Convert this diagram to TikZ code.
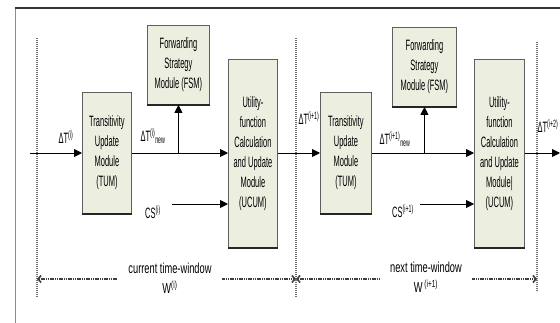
\documentclass[tikz,border=0pt]{standalone}
\usepackage{fontspec}
\setmainfont{Liberation Sans}[FakeStretch=0.5]
\newfontfamily\widerfont{Liberation Sans}[FakeStretch=0.64]
\usepackage{tikz}
\usetikzlibrary{arrows.meta,positioning}
\definecolor{ModFill}{RGB}{236,238,224}
\definecolor{ModEdge}{RGB}{95,95,95}
\definecolor{SepGray}{RGB}{110,110,110}

\begin{document}
\begin{tikzpicture}[
    x=1pt, y=-1pt,
    module/.style={
      draw=ModEdge,
      fill=ModFill,
      line width=0.9pt,
      anchor=north west,
      align=center,
      inner sep=0pt,
      font=\fontsize{15}{20}\selectfont
    },
    lbl/.style={font=\fontsize{15}{16}\selectfont, inner sep=0pt},
    winlabel/.style={
      fill=white,
      align=center,
      inner xsep=10pt, inner ysep=1pt,
      font=\widerfont\fontsize{14.5}{20}\selectfont
    },
    arrow/.style={-{Triangle[length=8pt,width=8pt]}, line width=0.9pt},
    separator/.style={SepGray, line width=1.3pt, dash pattern=on 1.2pt off 0.8pt},
    dimline/.style={
      {Straight Barb[length=3pt,width=7pt]}-{Straight Barb[length=3pt,width=7pt]},
      black!75, line width=1.6pt, dash pattern=on 1.2pt off 0.6pt
    }
  ]
    \useasboundingbox (0,0) rectangle (560,323);

    % outer frame (cut off at right and bottom)
    \draw[black!45, line width=1pt] (15,323) -- (15,8);
    \draw[black!80, line width=1.6pt] (15,8) -- (560,8);

    % window separators
    \draw[separator] (37,38) coordinate (sep-a-top) -- (37,297) coordinate (sep-a-bot);
    \draw[separator] (296,38) coordinate (sep-b-top) -- (296,297) coordinate (sep-b-bot);
    \draw[separator] (537,42) coordinate (sep-c-top) -- (537,292) coordinate (sep-c-bot);

    % window i
    \node[module, minimum width=49pt, minimum height=121pt] (tum-i) at (82,92)
      {Transitivity\\Update\\Module\\(TUM)};
    \node[module, minimum width=62pt, minimum height=79pt] (fsm-i) at (147,25)
      {Forwarding\\Strategy\\Module (FSM)};
    \node[module, minimum width=49pt, minimum height=188pt] (ucum-i) at (228,59)
      {Utility-\\function\\Calculation\\and Update\\Module\\(UCUM)};

    % window i+1
    \node[module, minimum width=51pt, minimum height=121pt] (tum-ii) at (320,92)
      {Transitivity\\Update\\Module\\(TUM)};
    \node[module, minimum width=64pt, minimum height=79pt] (fsm-ii) at (392,27)
      {Forwarding\\Strategy\\Module (FSM)};
    \node[module, minimum width=50pt, minimum height=188pt] (ucum-ii) at (474,59)
      {Utility-\\function\\Calculation\\and Update\\Module|\\(UCUM)};

    % dark lower edges of the modules
    \draw[black!85, line width=1.3pt] (tum-i.south west) -- (tum-i.south east);
    \draw[black!85, line width=1.3pt] (fsm-i.south west) -- (fsm-i.south east);
    \draw[black!85, line width=1.3pt] (ucum-i.south west) -- (ucum-i.south east);
    \draw[black!85, line width=1.3pt] (tum-ii.south west) -- (tum-ii.south east);
    \draw[black!85, line width=1.3pt] (fsm-ii.south west) -- (fsm-ii.south east);
    \draw[black!85, line width=1.3pt] (ucum-ii.south west) -- (ucum-ii.south east);

    % flow labels
    \node[lbl] (dt-i) at (66,137) {ΔT\textsuperscript{(i)}};
    \node[lbl] (dt-i-new) at (153,136) {ΔT\textsuperscript{(i)}\textsubscript{new}};
    \node[lbl] (dt-ii) at (309,118) {ΔT\textsuperscript{(i+1)}};
    \node[lbl] (dt-ii-new) at (395,139) {ΔT\textsuperscript{(i+1)}\textsubscript{new}};
    \node[lbl] (dt-iii) at (548,126) {ΔT\textsuperscript{(i+2)}};
    \node[lbl] (cs-i) at (153,212) {CS\textsuperscript{(i)}};
    \node[lbl] (cs-ii) at (403,211) {CS\textsuperscript{(i+1)}};

    \coordinate (flow-in) at (30,153);
    \coordinate (flow-out) at (560,153);
    \coordinate (cs-i-tail) at (172,204);
    \coordinate (cs-ii-tail) at (420,204);

    \draw[arrow] (flow-in) -- (tum-i.west |- flow-in);
    \draw[arrow] (tum-i.east |- flow-in) -- (ucum-i.west |- flow-in);
    \draw[arrow] (fsm-i.south |- flow-in) -- (fsm-i.south);
    \draw[arrow] (cs-i-tail) -- (cs-i-tail -| ucum-i.west);
    \draw[arrow] (ucum-i.east |- flow-in) -- (tum-ii.west |- flow-in);
    \draw[arrow] (tum-ii.east |- flow-in) -- (ucum-ii.west |- flow-in);
    \draw[arrow] (fsm-ii.south |- flow-in) -- (fsm-ii.south);
    \draw[arrow] (cs-ii-tail) -- (cs-ii-tail -| ucum-ii.west);
    \draw[arrow] (ucum-ii.east |- flow-in) -- (flow-out);

    % time windows
    \draw[dimline] (sep-a-bot |- 0,279) -- (sep-b-bot |- 0,279);
    \draw[dimline] (sep-b-bot |- 0,279) -- (sep-c-bot |- 0,279);
    \node[winlabel] (win-i) at (170,278) {current time-window\\W\textsuperscript{(i)}};
    \node[winlabel] (win-ii) at (426,277) {next time-window\\W\textsuperscript{ (i+1)}};
  \end{tikzpicture}
\end{document}
